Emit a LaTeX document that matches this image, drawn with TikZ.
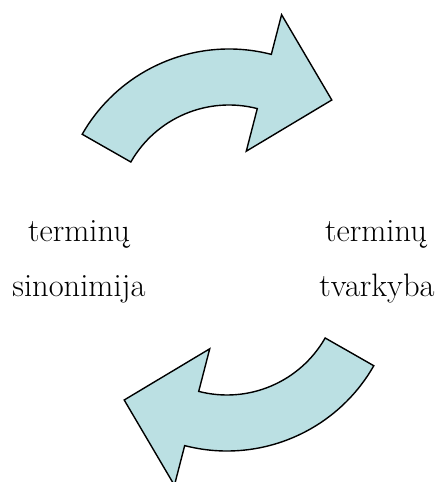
\documentclass[tikz,border=0pt]{standalone}
\usepackage{fontspec}
\usepackage{tikz}
\usetikzlibrary{calc}
\definecolor{arrowfill}{RGB}{187,224,227}
\newcommand{\bentarrow}{(150.3:169) arc[start angle=150.3, end angle=75.5, radius=169]
  -- (75.5:210) -- (102.8,118) -- (75.5:69) -- (75.5:113)
  arc[start angle=75.5, end angle=150.3, radius=113] -- cycle}

\begin{document}
\begin{tikzpicture}[x=1pt,y=1pt]
\path [use as bounding box] (0,0) rectangle (435,482);
\tikzstyle{every node} = [font=\fontsize{32.5}{38}\selectfont, anchor=base, inner sep=0pt]
\tikzstyle{turn} = [fill=arrowfill, draw=black, line width=1.4pt, line join=miter]
\coordinate (upper) at (229,264);
\coordinate (lower) at (227,200);
% upper arrow, left to right
\begin{scope}[shift={(upper)}]
\draw[turn] \bentarrow;
\end{scope}
% lower arrow, the same one turned round
\begin{scope}[shift={(lower)}, rotate=180]
\draw[turn] \bentarrow;
\end{scope}
\node (lefttop) at (79,240) {terminų};
\node (leftbot) at (79,185) {sinonimija};
\node (righttop) at (376,240) {terminų};
\node (rightbot) at (377,185) {tvarkyba};
\end{tikzpicture}
\end{document}
